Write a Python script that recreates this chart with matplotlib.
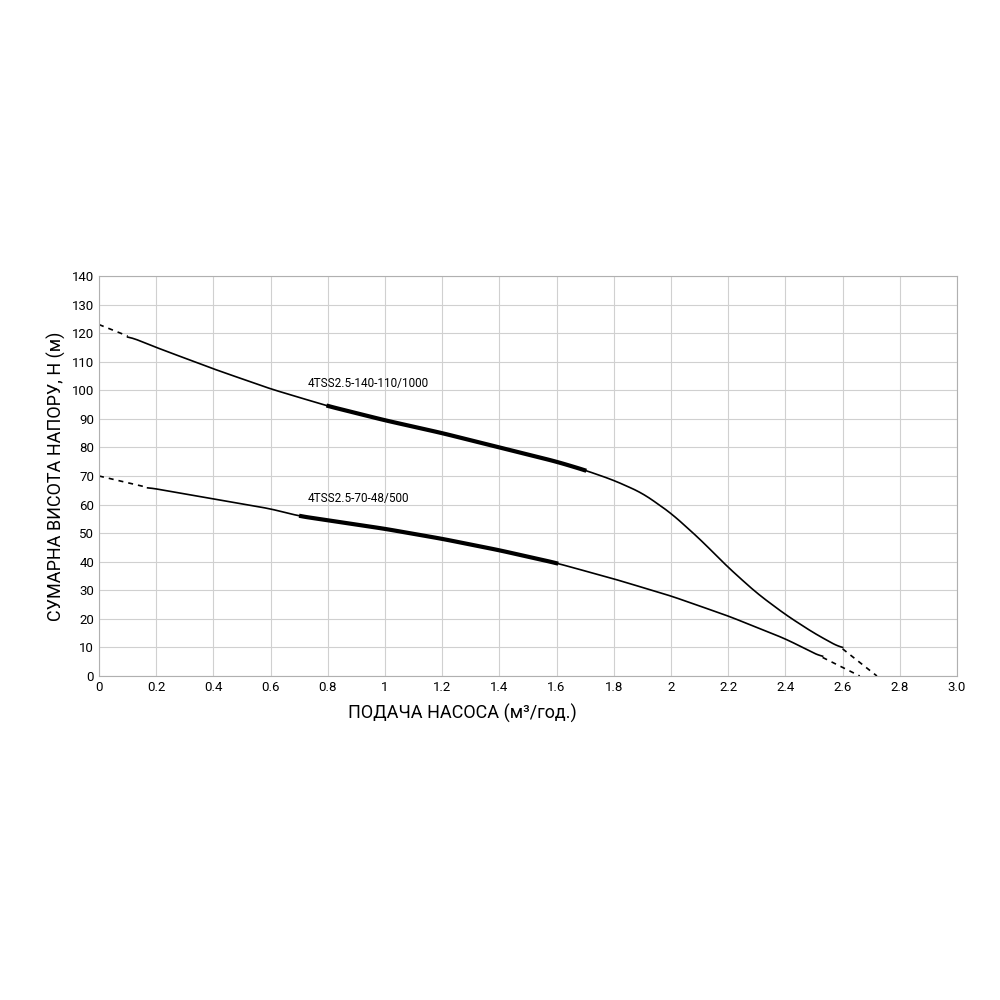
import matplotlib
matplotlib.use("Agg")
import matplotlib.pyplot as plt
import numpy as np

plt.rcParams['font.family'] = ['Roboto', 'DejaVu Sans']

up_dash1_x = [0.0, 0.1]; up_dash1_y = [123, 119]
up_x = [0.1, 0.2, 0.4, 0.6, 0.8, 1.0, 1.2, 1.4, 1.6, 1.7, 1.8, 1.9, 2.0, 2.1, 2.2, 2.3, 2.4, 2.5, 2.6]
up_y = [119, 115, 107.5, 100.5, 94.5, 89.5, 85, 80, 75, 72, 68.5, 64, 57, 48, 38, 29, 21.5, 15, 9.5]
up_dash2_x = [2.6, 2.72]; up_dash2_y = [9.5, 0]
up_thick = (0.8, 1.7)

lo_dash1_x = [0.0, 0.17]; lo_dash1_y = [70, 66]
lo_x = [0.17, 0.4, 0.6, 0.7, 0.8, 1.0, 1.2, 1.4, 1.6, 1.8, 2.0, 2.2, 2.4, 2.53]
lo_y = [66, 62, 58.5, 56, 54.5, 51.5, 48, 44, 39.5, 34, 28, 21, 13, 6.5]
lo_dash2_x = [2.53, 2.66]; lo_dash2_y = [6.5, 0]
lo_thick = (0.7, 1.6)

fig = plt.figure(figsize=(10, 10), dpi=100)
ax = fig.add_axes([0.099, 0.324, 0.858, 0.4])

def draw(x, y, d1x, d1y, d2x, d2y, thick):
    xs = np.linspace(x[0], x[-1], 300)
    ys = np.interp(xs, x, y)
    k = 9
    ysm = np.convolve(np.pad(ys, k//2, mode='edge'), np.ones(k)/k, mode='valid')
    ax.plot(xs, ysm, color='black', lw=1.2)
    m = (xs >= thick[0]) & (xs <= thick[1])
    ax.plot(xs[m], ysm[m], color='black', lw=3)
    ax.plot(d1x, d1y, color='black', lw=1.2, ls=(0, (3, 3)))
    ax.plot(d2x, d2y, color='black', lw=1.2, ls=(0, (3, 3)))

draw(up_x, up_y, up_dash1_x, up_dash1_y, up_dash2_x, up_dash2_y, up_thick)
draw(lo_x, lo_y, lo_dash1_x, lo_dash1_y, lo_dash2_x, lo_dash2_y, lo_thick)

ax.text(0.73, 101, "4TSS2.5-140-110/1000", fontsize=8.5)
ax.text(0.73, 61, "4TSS2.5-70-48/500", fontsize=8.5)

ax.set_xlim(0, 3.0); ax.set_ylim(0, 140)
ax.set_xticks(np.arange(0, 3.01, 0.2))
ax.set_xticklabels(['0', '0.2', '0.4', '0.6', '0.8', '1', '1.2', '1.4', '1.6', '1.8', '2', '2.2', '2.4', '2.6', '2.8', '3.0'])
ax.set_yticks(np.arange(0, 141, 10))
ax.grid(True, color='#d0d0d0', lw=0.8)
ax.tick_params(length=0, labelsize=9.5)
for s in ax.spines.values():
    s.set_color('#b0b0b0')
ax.set_xlabel("ПОДАЧА НАСОСА (м³/год.)", fontsize=13)
ax.xaxis.set_label_coords(0.423, -0.07)
ax.set_ylabel("СУМАРНА ВИСОТА НАПОРУ, Н (м)", fontsize=13)
fig.savefig("out.png")
